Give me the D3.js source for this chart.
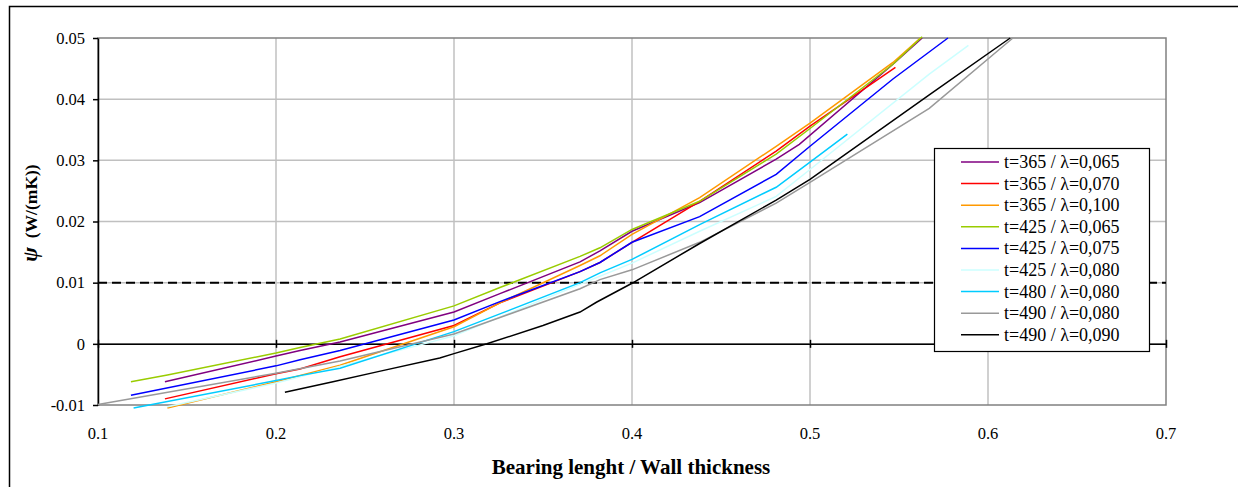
<!DOCTYPE html>
<html><head><meta charset="utf-8">
<script src="https://cdn.jsdelivr.net/npm/d3@7"></script>
<style>body{margin:0;background:#fff}svg{display:block}text{font-family:"Liberation Serif","Times New Roman",serif}</style>
</head><body><svg id="c" width="1238" height="487"></svg>
<script>
const xTicks = [0.1,0.2,0.3,0.4,0.5,0.6,0.7];
const yTicks = [-0.01,0,0.01,0.02,0.03,0.04,0.05];
const yTickLabels = ["-0.01","0","0.01","0.02","0.03","0.04","0.05"];
const xTickLabels = ["0.1","0.2","0.3","0.4","0.5","0.6","0.7"];
const seriesNames = ["t=365 / λ=0,065","t=365 / λ=0,070","t=365 / λ=0,100","t=425 / λ=0,065","t=425 / λ=0,075","t=425 / λ=0,080","t=480 / λ=0,080","t=490 / λ=0,080","t=490 / λ=0,090"];
const seriesColors = ["#800080","#ff0000","#ff9900","#99cc00","#0000ff","#ccffff","#00ccff","#999999","#000000"];

const x_365_065 = [0.1376,0.2,0.2135,0.236,0.3,0.3258,0.3708,0.382,0.4,0.438,0.481,0.494,0.5466,0.563];
const y_365_065 = [-0.0062,-0.0020,-0.0011,0.0003,0.0052,0.0082,0.0134,0.0152,0.0184,0.0231,0.0302,0.0326,0.0457,0.0500];
const x_365_070 = [0.1376,0.2,0.2135,0.236,0.3,0.3258,0.3708,0.382,0.4,0.438,0.481,0.5,0.548];
const y_365_070 = [-0.0090,-0.0049,-0.0041,-0.0021,0.0030,0.0067,0.0118,0.0133,0.0166,0.0233,0.0315,0.0356,0.0452];
const x_365_100 = [0.139,0.2,0.236,0.3,0.3258,0.3708,0.382,0.4,0.438,0.481,0.5,0.5466,0.562];
const y_365_100 = [-0.0105,-0.0062,-0.0035,0.0028,0.0067,0.0128,0.0144,0.0179,0.0239,0.0323,0.0361,0.0460,0.0500];
const x_425_065 = [0.1185,0.139,0.2,0.2135,0.236,0.3,0.3258,0.3708,0.382,0.4,0.438,0.481,0.5,0.5466,0.563];
const y_425_065 = [-0.0062,-0.0051,-0.0015,-0.0006,0.0008,0.0062,0.0092,0.0143,0.0157,0.0187,0.0233,0.0310,0.0352,0.0457,0.0502];
const x_425_075 = [0.1185,0.2,0.2135,0.236,0.3,0.3258,0.3708,0.382,0.4,0.438,0.481,0.5,0.5466,0.5775];
const y_425_075 = [-0.0084,-0.0036,-0.0026,-0.0011,0.0039,0.0069,0.0118,0.0133,0.0166,0.0208,0.0277,0.0323,0.0433,0.0500];
const x_425_080 = [0.139,0.2,0.2135,0.3,0.4,0.438,0.481,0.5,0.567,0.589];
const y_425_080 = [-0.0103,-0.0064,-0.0054,0.0013,0.0132,0.0184,0.0241,0.0285,0.0441,0.0488];
const x_480_080 = [0.12,0.2,0.2135,0.236,0.3,0.3258,0.3708,0.382,0.4,0.438,0.481,0.5,0.521];
const y_480_080 = [-0.0105,-0.0060,-0.0052,-0.0040,0.0020,0.0049,0.0100,0.0116,0.0138,0.0195,0.0256,0.0297,0.0343];
const x_490_080 = [0.1,0.2,0.236,0.3,0.3258,0.3708,0.382,0.4,0.438,0.481,0.5,0.567,0.614];
const y_490_080 = [-0.0099,-0.0048,-0.0028,0.0016,0.0043,0.0090,0.0105,0.0121,0.0166,0.0230,0.0264,0.0385,0.0500];
const x_490_090 = [0.205,0.232,0.258,0.292,0.3,0.3185,0.35,0.3708,0.38,0.4,0.438,0.481,0.5,0.567,0.6125];
const y_490_090 = [-0.0079,-0.0062,-0.0045,-0.0023,-0.0016,0.0000,0.0030,0.0052,0.0068,0.0099,0.0164,0.0235,0.0269,0.0407,0.0500];

const seriesX = [x_365_065,x_365_070,x_365_100,x_425_065,x_425_075,x_425_080,x_480_080,x_490_080,x_490_090];
const seriesY = [y_365_065,y_365_070,y_365_100,y_425_065,y_425_075,y_425_080,y_480_080,y_490_080,y_490_090];

const svg = d3.select("#c");
const L=98, R=1166, T=38, B=405;
const x = d3.scaleLinear().domain([0.1,0.7]).range([L,R]);
const y = d3.scaleLinear().domain([-0.01,0.05]).range([B,T]);

// outer frame
svg.append("rect").attr("x",9.5).attr("y",6.5).attr("width",1240).attr("height",490)
  .attr("fill","none").attr("stroke","#000").attr("stroke-width",1.5);

// gridlines
const g = svg.append("g");
g.selectAll(".vg").data(xTicks.slice(1,-1)).join("line")
  .attr("x1",d=>x(d)).attr("x2",d=>x(d)).attr("y1",T).attr("y2",B)
  .attr("stroke","#c0c0c0").attr("stroke-width",1.5);
g.selectAll(".hg").data(yTicks.slice(1,-1)).join("line")
  .attr("y1",d=>y(d)).attr("y2",d=>y(d)).attr("x1",L).attr("x2",R)
  .attr("stroke","#c0c0c0").attr("stroke-width",1.5);

// plot border (gray)
svg.append("rect").attr("x",L).attr("y",T).attr("width",R-L).attr("height",B-T)
  .attr("fill","none").attr("stroke","#808080").attr("stroke-width",1.5);

// dashed 0.01 line
svg.append("line").attr("x1",L).attr("x2",R).attr("y1",y(0.01)).attr("y2",y(0.01))
  .attr("stroke","#000").attr("stroke-width",2).attr("stroke-dasharray","9,5");

// zero axis with crossing ticks
const xAxis = d3.axisBottom(x).tickValues(xTicks).tickFormat("").tickSizeInner(4).tickSizeOuter(0);
const xa = svg.append("g").attr("transform",`translate(0,${y(0)})`).call(xAxis);
xa.select(".domain").attr("stroke","#000").attr("stroke-width",1.5);
xa.selectAll(".tick line").attr("y1",-4).attr("y2",4).attr("stroke","#000").attr("stroke-width",1.5);

// y axis
const yAxis = d3.axisLeft(y).tickValues(yTicks).tickFormat((d,i)=>yTickLabels[i]).tickSizeInner(5).tickSizeOuter(0).tickPadding(8);
const ya = svg.append("g").attr("transform",`translate(${L},0)`).call(yAxis);
ya.attr("font-family",null);
ya.select(".domain").attr("stroke","#000").attr("stroke-width",1.5);
ya.selectAll(".tick line").attr("stroke","#000").attr("stroke-width",1.5);
ya.selectAll(".tick text").attr("font-family","Liberation Serif").attr("font-size",16.5).attr("fill","#000");

// x tick labels
svg.append("g").selectAll("text").data(xTicks).join("text")
  .attr("x",d=>x(d)).attr("y",439).attr("text-anchor","middle")
  .attr("font-size",16.5).attr("fill","#000").text((d,i)=>xTickLabels[i]);

// series
const line = d3.line().x(d=>x(d[0])).y(d=>y(d[1]));
seriesX.forEach((xs,i)=>{
  const pts = xs.map((v,j)=>[v,seriesY[i][j]]);
  svg.append("path").datum(pts).attr("d",line).attr("fill","none")
    .attr("stroke",seriesColors[i]).attr("stroke-width",1.5);
});

// axis titles
svg.append("text").attr("x",631).attr("y",474).attr("text-anchor","middle")
  .attr("font-size",21).attr("font-weight","bold").text("Bearing lenght / Wall thickness");
const yt = svg.append("text").attr("transform","translate(37,213) rotate(-90)").attr("text-anchor","middle")
  .attr("font-size",17.5).attr("font-weight","bold");
yt.append("tspan").attr("font-style","italic").attr("font-size",22).text("ψ");
yt.append("tspan").text("  (W/(mK))").attr("xml:space","preserve");

// legend
const lg = svg.append("g");
lg.append("rect").attr("x",934.5).attr("y",148.5).attr("width",215).attr("height",203)
  .attr("fill","#fff").attr("stroke","#000").attr("stroke-width",1.2);
seriesNames.forEach((n,i)=>{
  const yy = 162 + i*21.6;
  lg.append("line").attr("x1",961).attr("x2",999).attr("y1",yy).attr("y2",yy)
    .attr("stroke",seriesColors[i]).attr("stroke-width",1.5);
  lg.append("text").attr("x",1004).attr("y",yy+6).attr("font-size",18).attr("fill","#000").text(n);
});
</script></body></html>
